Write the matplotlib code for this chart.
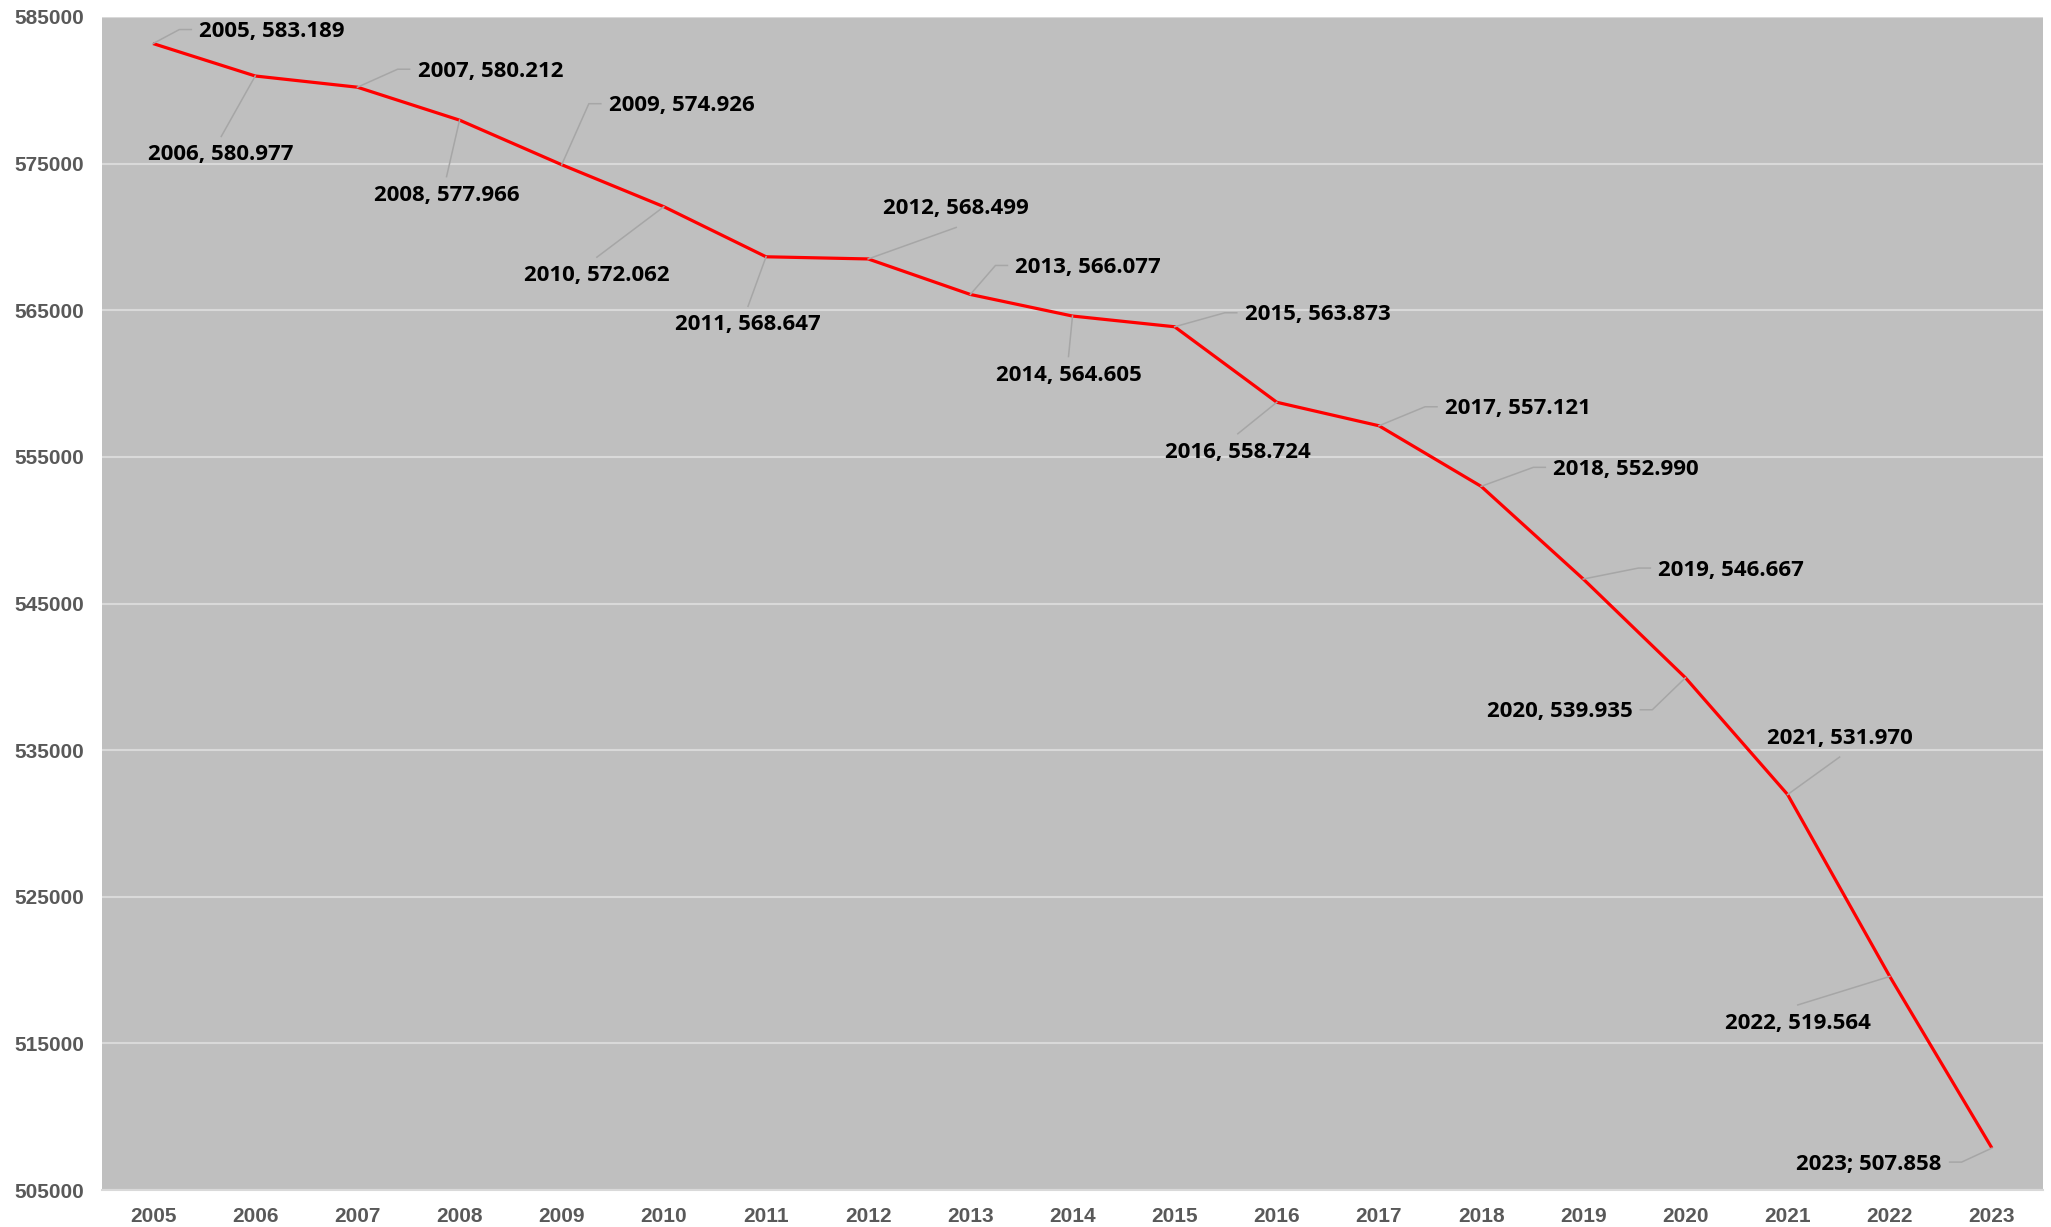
import numpy as np
import matplotlib.pyplot as plt
from matplotlib.lines import Line2D
from matplotlib.transforms import IdentityTransform

# === DATA === #
years = [2005, 2006, 2007, 2008, 2009, 2010, 2011, 2012, 2013, 2014,
         2015, 2016, 2017, 2018, 2019, 2020, 2021, 2022, 2023]
values = [583189, 580977, 580212, 577966, 574926, 572062, 568647, 568499, 566077, 564605,
          563873, 558724, 557121, 552990, 546667, 539935, 531970, 519564, 507858]
labels = ['2005, 583.189', '2006, 580.977', '2007, 580.212', '2008, 577.966', '2009, 574.926',
          '2010, 572.062', '2011, 568.647', '2012, 568.499', '2013, 566.077', '2014, 564.605',
          '2015, 563.873', '2016, 558.724', '2017, 557.121', '2018, 552.990', '2019, 546.667',
          '2020, 539.935', '2021, 531.970', '2022, 519.564', '2023; 507.858']

# label placement: offset of text centre from point (pixels, y down) and leader side
label_dx = [119, -34, 133, -13, 120, -67, -18, 88, 118, -4, 143, -39, 139, 145, 148, -126, 52, -92, -123]
label_dy = [-16, 75, -20, 71, -63, 65, 64, -54, -31, 55, -16, 46, -21, -21, -13, 30, -60, 43, 12]
label_side = ['r', 'b', 'r', 'b', 'r', 'b', 'b', 't', 'r', 'b', 'r', 'b', 'r', 'r', 'r', 'l', 't', 'b', 'l']

DPI = 100
fig = plt.figure(figsize=(20.51, 12.27), dpi=DPI)
ax = fig.add_axes([102 / 2051, 1 - 1190 / 1227, 1941 / 2051, 1173 / 1227])

x = np.arange(len(years))
ax.plot(x, values, color='red', lw=2.3, zorder=3, solid_capstyle='butt')

ax.set_xlim(-0.5, len(years) - 0.5)
ax.set_ylim(505000, 585000)
ax.set_yticks(range(505000, 585001, 10000))
ax.set_xticks(x)
ax.set_xticklabels([str(y) for y in years])

ax.set_facecolor('#BFBFBF')
ax.grid(axis='y', color='#D9D9D9', lw=1.5, zorder=1)
ax.set_axisbelow(True)
for s in ['left', 'right', 'top']:
    ax.spines[s].set_visible(False)
ax.spines['bottom'].set_color('#D9D9D9')
ax.spines['bottom'].set_linewidth(1.5)

ax.tick_params(length=0, labelsize=15, labelcolor='#595959')
ax.tick_params(axis='x', pad=12)
ax.tick_params(axis='y', pad=13)
for t in ax.get_xticklabels() + ax.get_yticklabels():
    t.set_fontfamily('Liberation Sans')
    t.set_fontweight('bold')

texts = []
for i in range(len(years)):
    t = ax.annotate(labels[i], (x[i], values[i]),
                    xytext=(label_dx[i] * 72 / DPI, -(label_dy[i] + 4) * 72 / DPI),
                    textcoords='offset points', ha='center', va='center',
                    fontsize=16, fontweight='bold', family='Open Sans', color='black', zorder=4)
    texts.append(t)

# leader lines
fig.canvas.draw()
for i, t in enumerate(texts):
    bb = t.get_window_extent()
    px, py = ax.transData.transform((x[i], values[i]))
    cy = (bb.y0 + bb.y1) / 2 + 2
    side = label_side[i]
    if side == 'r':
        xs = [px, bb.x0 - 20, bb.x0 - 8]
        ys = [py, cy, cy]
    elif side == 'l':
        xs = [px, bb.x1 + 20, bb.x1 + 8]
        ys = [py, cy, cy]
    elif side == 'b':
        xs = [px, (bb.x0 + bb.x1) / 2]
        ys = [py, bb.y1 + 8]
    else:
        xs = [px, (bb.x0 + bb.x1) / 2]
        ys = [py, bb.y0 - 8]
    fig.add_artist(Line2D(xs, ys, transform=IdentityTransform(), color='#A6A6A6', lw=1.1, zorder=2))

fig.savefig('out.png', dpi=DPI)
